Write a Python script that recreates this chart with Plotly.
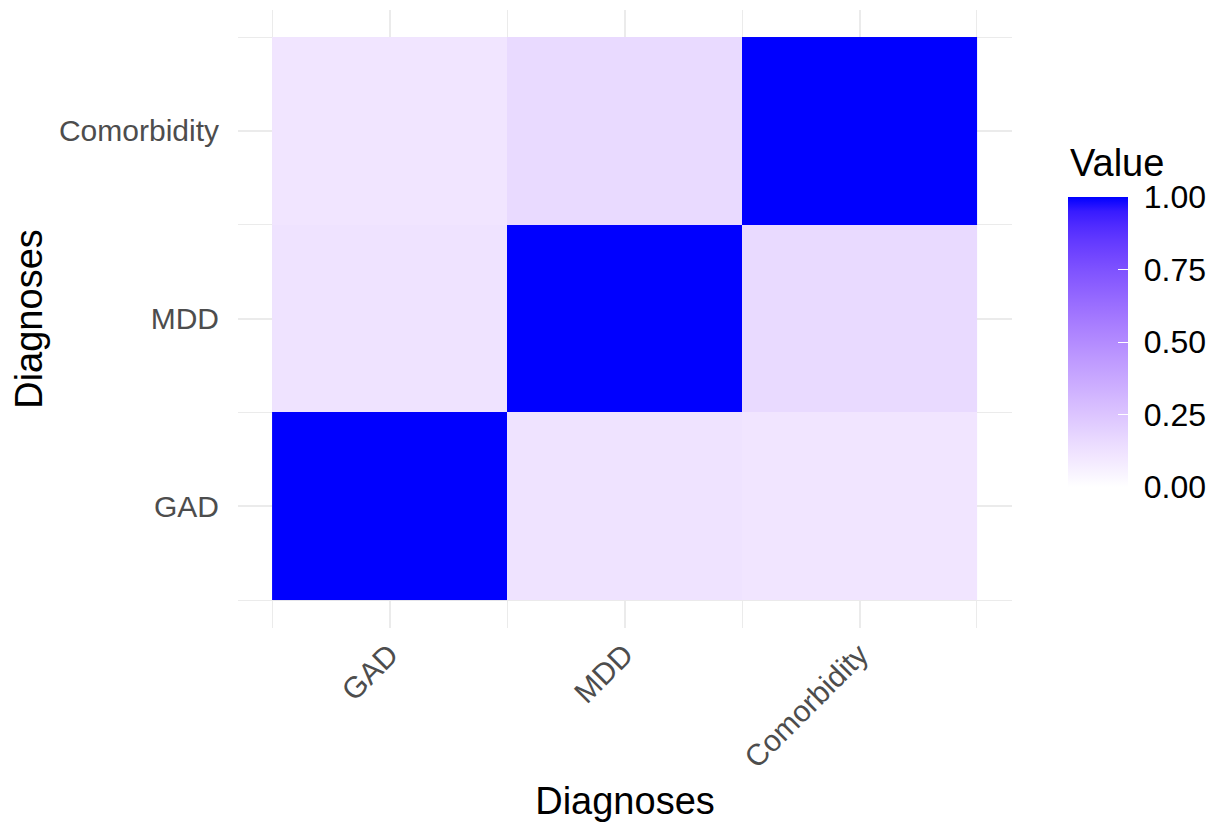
import numpy as np
import plotly.graph_objects as go

categories = ["GAD", "MDD", "Comorbidity"]
# rows = y category, cols = x category
values = [
    [1.00, 0.12, 0.11],   # y = GAD
    [0.12, 1.00, 0.16],   # y = MDD
    [0.11, 0.16, 1.00],   # y = Comorbidity
]
cbar_ticks = [0.0, 0.25, 0.5, 0.75, 1.0]
cbar_ticktext = ["0.00", "0.25", "0.50", "0.75", "1.00"]


# ggplot-like Lab interpolation white -> blue
def srgb_to_lin(c):
    c = np.asarray(c) / 255.0
    return np.where(c <= 0.04045, c / 12.92, ((c + 0.055) / 1.055) ** 2.4)


def lin_to_srgb(c):
    c = np.clip(c, 0, 1)
    return np.where(c <= 0.0031308, 12.92 * c, 1.055 * c ** (1 / 2.4) - 0.055) * 255


M = np.array([[0.4124, 0.3576, 0.1805], [0.2126, 0.7152, 0.0722], [0.0193, 0.1192, 0.9505]])
WP = np.array([0.95047, 1.0, 1.08883])


def f(t):
    return np.where(t > (6 / 29) ** 3, np.cbrt(t), t / (3 * (6 / 29) ** 2) + 4 / 29)


def finv(t):
    return np.where(t > 6 / 29, t ** 3, 3 * (6 / 29) ** 2 * (t - 4 / 29))


def rgb_to_lab(rgb):
    xyz = M @ srgb_to_lin(rgb) / WP
    fx, fy, fz = f(xyz)
    return np.array([116 * fy - 16, 500 * (fx - fy), 200 * (fy - fz)])


def lab_to_rgb(lab):
    L, a, b = lab
    fy = (L + 16) / 116
    fx = fy + a / 500
    fz = fy - b / 200
    xyz = np.array([finv(fx), finv(fy), finv(fz)]) * WP
    lin = np.linalg.solve(M, xyz)
    return lin_to_srgb(lin)


lab0 = rgb_to_lab([255, 255, 255])
lab1 = rgb_to_lab([0, 0, 255])
colorscale = []
for t in np.linspace(0, 1, 21):
    r, g, b = lab_to_rgb(lab0 + (lab1 - lab0) * t)
    colorscale.append([float(t), f"rgb({int(round(r))},{int(round(g))},{int(round(b))})"])

idx = list(range(len(categories)))

fig = go.Figure(
    go.Heatmap(
        x=idx,
        y=idx,
        z=values,
        zmin=0,
        zmax=1,
        colorscale=colorscale,
        xgap=0,
        ygap=0,
        colorbar=dict(
            tickvals=cbar_ticks,
            ticktext=["\u00a0" + t for t in cbar_ticktext],
            tickfont=dict(size=32, color="black"),
            ticks="inside",
            ticklen=10,
            tickcolor="white",
            outlinewidth=0,
            thickness=60,
            thicknessmode="pixels",
            len=290,
            lenmode="pixels",
            x=(1068 - 238) / 774,
            xanchor="left",
            y=(628 - 342) / 618,
            yanchor="middle",
            xpad=0,
            ypad=0,
        ),
    )
)

grid_col = "#ebebeb"
minor_vals = [-0.5, 0.5, 1.5, 2.5]

fig.update_xaxes(
    range=[-0.645, 2.649],
    tickvals=idx,
    ticktext=categories,
    tickangle=-45,
    tickfont=dict(size=30, color="#4d4d4d"),
    showgrid=True,
    gridcolor=grid_col,
    gridwidth=2.2,
    zeroline=False,
    showline=False,
    ticks="",
    automargin=False,
    minor=dict(tickvals=minor_vals, showgrid=True, gridcolor=grid_col, gridwidth=1.1, ticks=""),
    title=dict(text="Diagnoses", font=dict(size=38, color="black"), standoff=14),
    ticklabelstandoff=2,
)
fig.update_yaxes(
    range=[-0.649, 2.644],
    tickvals=idx,
    ticktext=categories,
    tickfont=dict(size=30, color="#4d4d4d"),
    showgrid=True,
    gridcolor=grid_col,
    gridwidth=2.2,
    zeroline=False,
    showline=False,
    ticks="",
    automargin=False,
    minor=dict(tickvals=minor_vals, showgrid=True, gridcolor=grid_col, gridwidth=1.1, ticks=""),
    title=dict(text="Diagnoses", font=dict(size=38, color="black"), standoff=4),
    ticklabelstandoff=18,
)

fig.update_layout(
    width=1214,
    height=828,
    margin=dict(l=238, r=202, t=10, b=200, autoexpand=False),
    paper_bgcolor="white",
    plot_bgcolor="white",
    font=dict(family="Liberation Sans, Arial, sans-serif"),
    annotations=[
        dict(
            text="Value",
            x=(1068 - 238) / 774,
            y=(628 - 163) / 618,
            xref="paper",
            yref="paper",
            xanchor="left",
            yanchor="middle",
            showarrow=False,
            font=dict(size=38, color="black"),
        )
    ],
)

fig.write_html("out.html")
